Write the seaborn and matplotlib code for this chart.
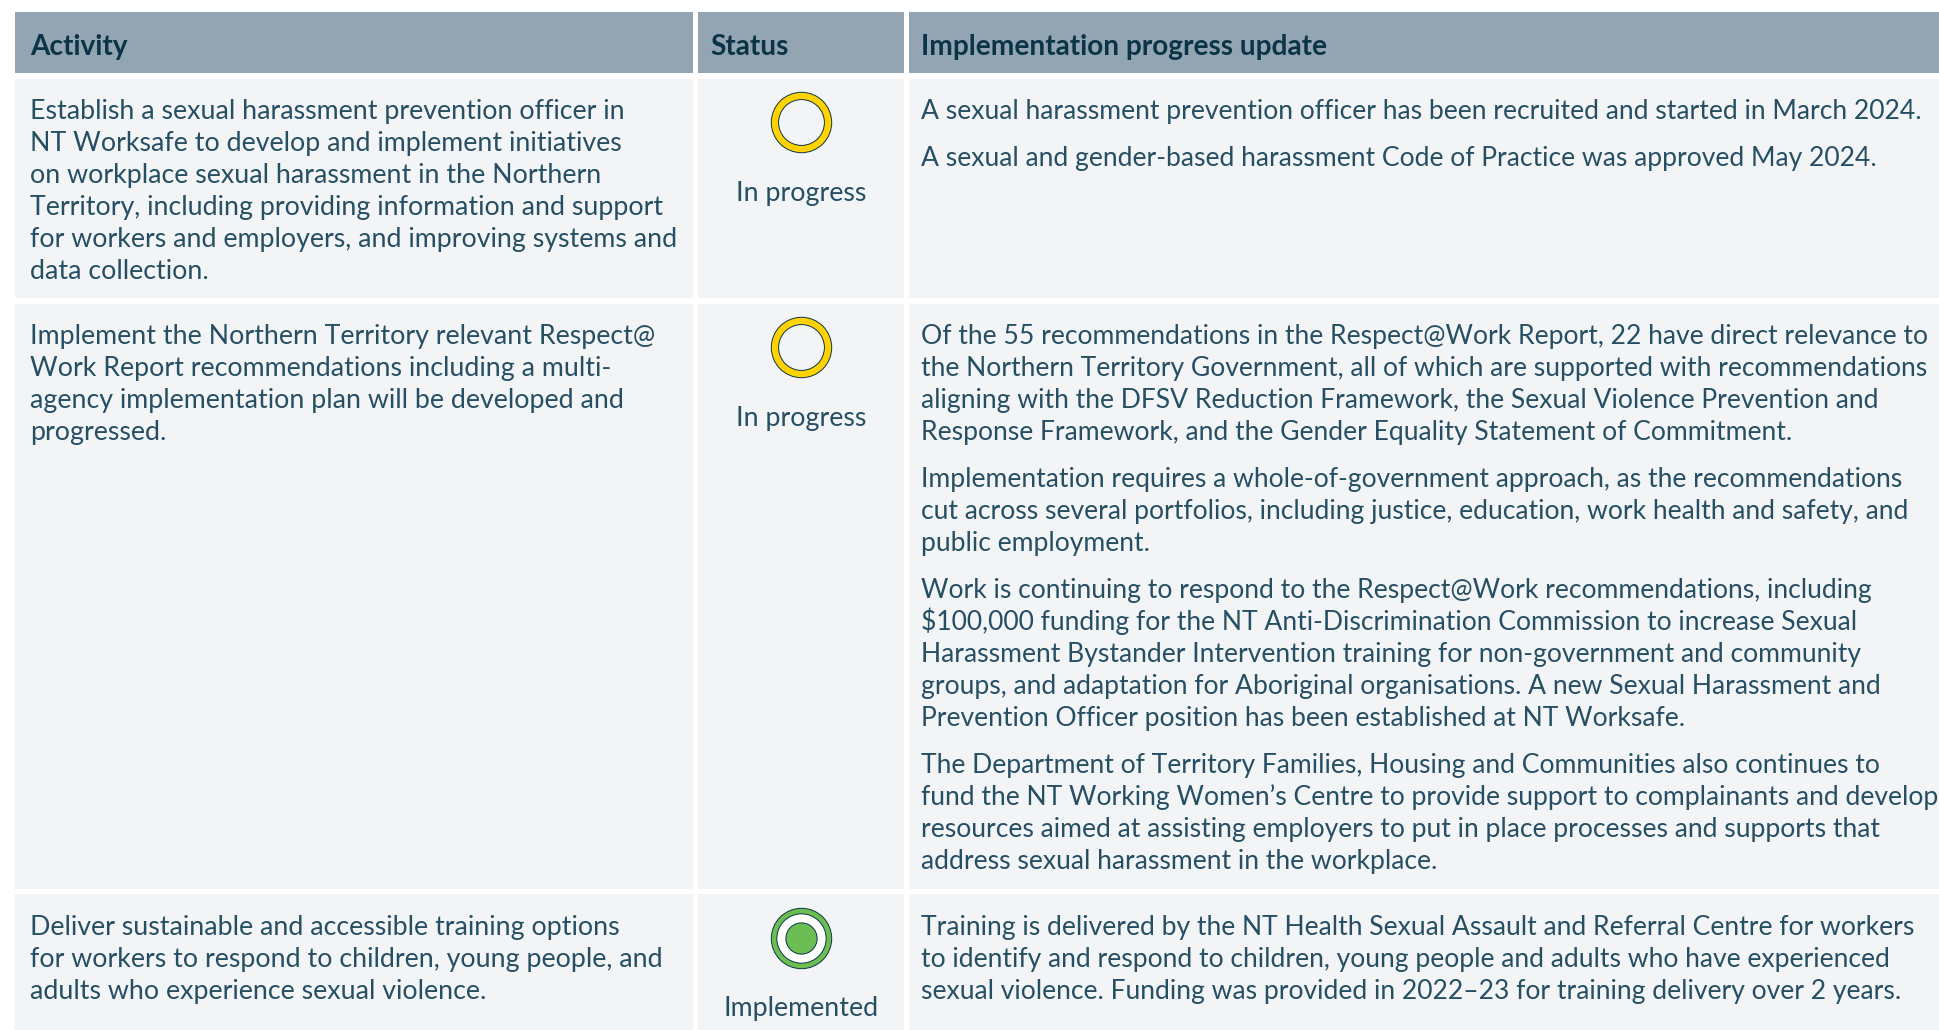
import matplotlib
matplotlib.use('Agg')
import matplotlib.pyplot as plt
import seaborn as sns
from matplotlib.patches import Rectangle

headers = ['Activity', 'Status', 'Implementation progress update']

activities = [
    ['Establish a sexual harassment prevention officer in',
     'NT Worksafe to develop and implement initiatives',
     'on workplace sexual harassment in the Northern',
     'Territory, including providing information and support',
     'for workers and employers, and improving systems and',
     'data collection.'],
    ['Implement the Northern Territory relevant Respect@',
     'Work Report recommendations including a multi-',
     'agency implementation plan will be developed and',
     'progressed.'],
    ['Deliver sustainable and accessible training options',
     'for workers to respond to children, young people, and',
     'adults who experience sexual violence.'],
]

statuses = ['In progress', 'In progress', 'Implemented']

updates = [
    [['A sexual harassment prevention officer has been recruited and started in March 2024.'],
     ['A sexual and gender-based harassment Code of Practice was approved May 2024.']],
    [['Of the 55 recommendations in the Respect@Work Report, 22 have direct relevance to',
      'the Northern Territory Government, all of which are supported with recommendations',
      'aligning with the DFSV Reduction Framework, the Sexual Violence Prevention and',
      'Response Framework, and the Gender Equality Statement of Commitment.'],
     ['Implementation requires a whole-of-government approach, as the recommendations',
      'cut across several portfolios, including justice, education, work health and safety, and',
      'public employment.'],
     ['Work is continuing to respond to the Respect@Work recommendations, including',
      '$100,000 funding for the NT Anti-Discrimination Commission to increase Sexual',
      'Harassment Bystander Intervention training for non-government and community',
      'groups, and adaptation for Aboriginal organisations. A new Sexual Harassment and',
      'Prevention Officer position has been established at NT Worksafe.'],
     ['The Department of Territory Families, Housing and Communities also continues to',
      'fund the NT Working Women\u2019s Centre to provide support to complainants and develop',
      'resources aimed at assisting employers to put in place processes and supports that',
      'address sexual harassment in the workplace.']],
    [['Training is delivered by the NT Health Sexual Assault and Referral Centre for workers',
      'to identify and respond to children, young people and adults who have experienced',
      'sexual violence. Funding was provided in 2022\u201323 for training delivery over 2 years.']],
]

# layout in pixels of the 1939x1030 picture
col_x = [(15, 693), (698, 904), (909, 1939)]
text_x = [30, 710, 921]
row_y = [(79, 298), (304, 889), (894, 1030)]
first_base = [119, 344, 935]
label_base = [201, 426, 1016]
line_h = 32
para_h = 47

HEAD = '#93a4b2'
CELL = '#f2f4f6'
DARK = '#0b3547'
TXT = '#264f64'
YELLOW = '#ffd200'
GREEN = '#6cbe52'

sns.set_theme(style='white')
plt.rcParams['font.family'] = ['Lato', 'DejaVu Sans']

fig = plt.figure(figsize=(19.39, 10.30), dpi=100)
ax = fig.add_axes([0, 0, 1, 1])
ax.set_xlim(0, 1939)
ax.set_ylim(1030, 0)
ax.axis('off')

FS_ACT = 19.3
FS_UPD = 19.05
HEAD_FS = 20.2

for i, (x0, x1) in enumerate(col_x):
    ax.add_patch(Rectangle((x0, 12), x1 - x0, 61, fc=HEAD, ec='none'))
    ax.text(text_x[i], 55, headers[i], fontsize=HEAD_FS, fontweight='bold', color=DARK, va='baseline')
    for y0, y1 in row_y:
        ax.add_patch(Rectangle((x0, y0), x1 - x0, y1 - y0, fc=CELL, ec='none'))

for r in range(3):
    y = first_base[r]
    for line in activities[r]:
        ax.text(text_x[0], y, line, fontsize=FS_ACT, color=TXT, va='baseline')
        y += line_h

    y = first_base[r]
    for para in updates[r]:
        for line in para:
            ax.text(text_x[2], y, line, fontsize=FS_UPD, color=TXT, va='baseline')
            y += line_h
        y += para_h - line_h

    ax.text(801, label_base[r], statuses[r], fontsize=FS_ACT, color=TXT, va='baseline', ha='center')

    # status icon, sizes are (diameter in pt)**2
    cy = first_base[r] + 3
    done = statuses[r] == 'Implemented'
    sns.scatterplot(x=[800.5], y=[cy], s=43.5 ** 2, color=GREEN if done else YELLOW,
                    edgecolor=DARK, linewidth=0.7, ax=ax, legend=False, zorder=3)
    inner = 35.5 if done else 33
    sns.scatterplot(x=[800.5], y=[cy], s=inner ** 2, color='white' if done else CELL,
                    edgecolor=DARK, linewidth=0.7, ax=ax, legend=False, zorder=4)
    if done:
        sns.scatterplot(x=[800.5], y=[cy], s=22.5 ** 2, color=GREEN,
                        edgecolor=DARK, linewidth=0.7, ax=ax, legend=False, zorder=5)

ax.set_xlim(0, 1939)
ax.set_ylim(1030, 0)
fig.savefig('out.png', dpi=100, facecolor='white')
